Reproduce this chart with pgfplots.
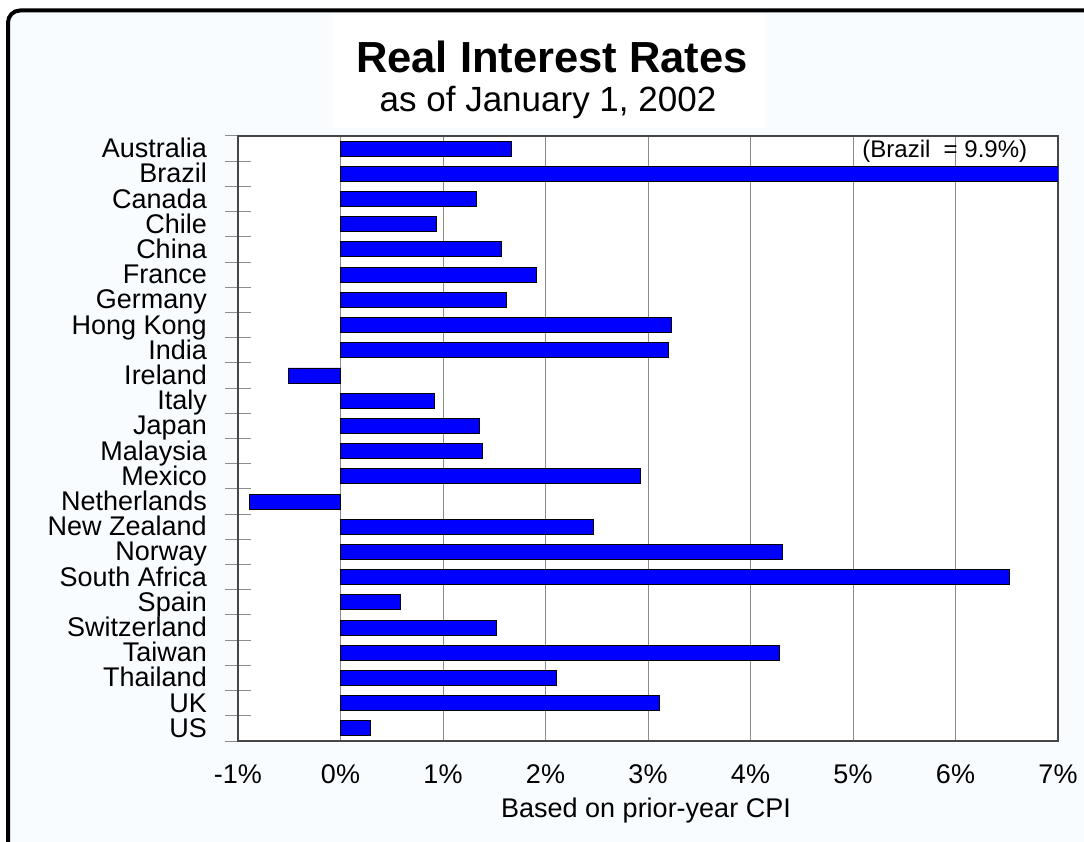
\documentclass[border=0pt]{standalone}
\usepackage{pgfplots}
\pgfplotsset{compat=1.18}
\usepackage{fontspec}
\setmainfont{Liberation Sans}
\definecolor{barblue}{RGB}{0,0,255}
\definecolor{bgc}{RGB}{248,252,255}
\definecolor{gridc}{RGB}{140,140,140}
\definecolor{axc}{RGB}{70,70,70}
\begin{document}
\begin{tikzpicture}[x=1pt,y=1pt]
\useasboundingbox (0,0) rectangle (1084,842);
\begin{scope}
\clip (0,0) rectangle (1084,842);
\fill[bgc, rounded corners=12] (8,-20) -- (8,831.5) -- (1110,831.5) -- (1110,-20) -- cycle;
\fill[white] (333,714) rectangle (765,828);
\draw[line width=4, rounded corners=12] (8,-20) -- (8,831.5) -- (1110,831.5);
\end{scope}
\node[font=\fontsize{43.5}{48}\selectfont\bfseries, anchor=base, inner sep=0] at (552,769) {Real Interest Rates};
\node[font=\fontsize{35}{40}\selectfont, anchor=base, inner sep=0] at (548,730) {as of January 1, 2002};
\node[font=\fontsize{27}{31}\selectfont, anchor=base, inner sep=0] at (646,24) {Based on prior-year CPI};
\begin{axis}[at={(238pt,101pt)}, anchor=south west, scale only axis,
  width=820pt, height=605pt,
  xbar, bar width=15pt,
  xmin=-1, xmax=7, ymin=-0.5, ymax=23.5, y dir=reverse,
  xtick={-1,0,1,2,3,4,5,6,7},
  xticklabels={-1\%,0\%,1\%,2\%,3\%,4\%,5\%,6\%,7\%},
  ytick={0,...,23},
  yticklabels={Australia,Brazil,Canada,Chile,China,France,Germany,Hong Kong,India,Ireland,Italy,Japan,Malaysia,Mexico,Netherlands,New Zealand,Norway,South Africa,Spain,Switzerland,Taiwan,Thailand,UK,US},
  minor ytick={-0.5,0.5,...,23.5},
  major tick length=0pt, minor tick length=25pt, tick align=center,
  tick pos=left,
  minor tick style={gridc, line width=1pt},
  xmajorgrids=true,
  grid style={gridc, line width=0.9pt},
  axis line style={axc, line width=1.5pt},
  tick label style={font=\fontsize{27}{31}\selectfont},
  /pgf/number format/assume math mode=true,
  xticklabel style={inner sep=0pt, anchor=base, yshift=-42pt},
  yticklabel style={inner sep=0pt, anchor=base east, xshift=-31pt, yshift=-9pt},
  axis background/.style={fill=white},
  clip=true,
]
\addplot[fill=barblue, draw=black, line width=0.9pt] coordinates {
(1.67,0) (9.9,1) (1.33,2) (0.94,3) (1.57,4) (1.91,5) (1.62,6) (3.23,7)
(3.20,8) (-0.51,9) (0.92,10) (1.36,11) (1.38,12) (2.93,13) (-0.89,14)
(2.47,15) (4.31,16) (6.53,17) (0.58,18) (1.52,19) (4.28,20) (2.11,21)
(3.11,22) (0.29,23)};
\node[anchor=west, inner sep=0pt, font=\fontsize{24}{27}\selectfont] at (axis cs:5.09,0.1) {(Brazil\ \ = 9.9\%)};
\end{axis}
\end{tikzpicture}
\end{document}
